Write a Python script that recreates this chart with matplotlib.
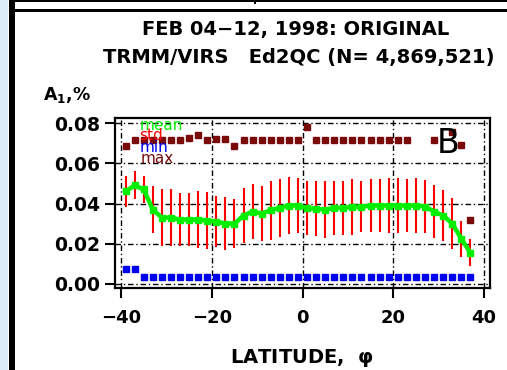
import numpy as np
import matplotlib
matplotlib.use("Agg")
import matplotlib.pyplot as plt
from matplotlib.patches import Rectangle

# ---- data ----
lats = [-39, -37, -35, -33, -31, -29, -27, -25, -23, -21, -19, -17, -15, -13, -11, -9, -7, -5, -3, -1,
        1, 3, 5, 7, 9, 11, 13, 15, 17, 19, 21, 23, 25, 27, 29, 31, 33, 35, 37]
mean_vals = [0.046, 0.049, 0.047, 0.037, 0.033, 0.033, 0.032, 0.032, 0.032, 0.0315, 0.031, 0.030, 0.030,
             0.034, 0.036, 0.035, 0.0367, 0.0378, 0.039, 0.039, 0.0378, 0.0373, 0.037, 0.0378, 0.0378,
             0.0383, 0.0383, 0.039, 0.039, 0.039, 0.039, 0.039, 0.039, 0.0385, 0.036, 0.034, 0.030,
             0.0225, 0.0155]
std_vals = [0.0075, 0.007, 0.0068, 0.0117, 0.0143, 0.0143, 0.0133, 0.0133, 0.014, 0.014, 0.0125, 0.013,
            0.012, 0.0137, 0.0135, 0.0137, 0.0147, 0.0143, 0.014, 0.0135, 0.0133, 0.0137, 0.014, 0.0133,
            0.0135, 0.014, 0.0127, 0.013, 0.0133, 0.0138, 0.0136, 0.013, 0.0136, 0.013, 0.0133, 0.0126,
            0.0127, 0.009, 0.0067]
min_vals = [0.0075, 0.0075] + [0.0037] * 37
max_vals = [0.0687, 0.0717, 0.0717, 0.0717, 0.0717, 0.0717, 0.0717, 0.0725, 0.074, 0.0717, 0.072, 0.072,
            0.0687, 0.0716, 0.0716, 0.0716, 0.0716, 0.0716, 0.0716, 0.0716, 0.0778, 0.0716, 0.0716,
            0.0716, 0.0716, 0.0716, 0.0716, 0.0716, 0.0716, 0.0716, 0.0716, 0.0716, np.nan, np.nan,
            0.0716, np.nan, 0.0757, 0.069, 0.032]
xticks = [-40, -20, 0, 20, 40]
yticks = [0.00, 0.02, 0.04, 0.06, 0.08]
title1 = "FEB 04\u221212, 1998: ORIGINAL"
title2 = "TRMM/VIRS   Ed2QC (N= 4,869,521)"

plt.rcParams['mathtext.default'] = 'bf'
W, H = 507, 370
fig = plt.figure(figsize=(W / 100, H / 100), dpi=100)

def fx(x):
    return x / W

def fy(y):
    return 1 - y / H

# page decorations
fig.add_artist(Rectangle((0, 0), fx(8), 1, transform=fig.transFigure, color='#dbebf8', lw=0))
fig.add_artist(Rectangle((fx(9), 0), fx(6), 1, transform=fig.transFigure, color='black', lw=0))
fig.add_artist(Rectangle((fx(9), fy(2)), 1, 2 / H, transform=fig.transFigure, color='black', lw=0))
fig.add_artist(Rectangle((fx(15), fy(12)), 1, 3 / H, transform=fig.transFigure, color='black', lw=0))
fig.add_artist(Rectangle((fx(254), fy(4)), 2 / W, 4 / H, transform=fig.transFigure, color='black', lw=0))

ax = fig.add_axes([fx(115), fy(288), (490 - 115) / W, (288 - 118) / H])
ax.set_xlim(-41.32, 41.32)
ax.set_ylim(-0.002, 0.0825)

ax.grid(True, color='black', lw=1.0, linestyle=(0, (4, 2, 1, 2)))
ax.set_axisbelow(True)

ax.errorbar(lats, mean_vals, yerr=std_vals, fmt='s', color='red', ms=3, elinewidth=1.5,
            capsize=0, zorder=3)
ax.plot(lats, mean_vals, color='#00ee00', lw=3.2, marker='s', ms=5, zorder=4)
ax.plot(lats, min_vals, 's', color='#0000ee', ms=4, zorder=4)
ax.plot(lats, max_vals, 's', color='#7a0a0a', ms=4, zorder=4)

ax.text(-35.9, 0.0765, 'mean', color='#00ee00', fontsize=11, zorder=5)
ax.text(-35.9, 0.0716, 'std', color='red', fontsize=11, zorder=5)
ax.text(-35.9, 0.0656, 'min', color='#0000ee', fontsize=11, zorder=5)
ax.text(-35.7, 0.0601, 'max', color='#7a0a0a', fontsize=11, zorder=5)
ax.text(32.0, 0.0696, 'B', fontsize=24, ha='center', va='center', zorder=6)

ax.set_xticks(xticks)
ax.set_xticklabels(['\u221240', '\u221220', '0', '20', '40'], fontsize=13, fontweight='bold')
ax.set_yticks(yticks)
ax.set_yticklabels(['%.2f' % v for v in yticks], fontsize=13.5, fontweight='bold')
ax.tick_params(axis='both', direction='out', length=7, width=1.5, colors='black')
ax.tick_params(axis='x', pad=8)
for s in ax.spines.values():
    s.set_linewidth(1.6)

fig.text(fx(296), fy(30), title1, ha='center', va='center', fontsize=14, fontweight='bold')
fig.text(fx(299), fy(57), title2, ha='center', va='center', fontsize=14, fontweight='bold')
fig.text(fx(43), fy(95), r'A$_1$,%', ha='left', va='center', fontsize=12.5, fontweight='bold')
fig.text(fx(302), fy(358), r'LATITUDE,  $\varphi$', ha='center', va='center', fontsize=14,
         fontweight='bold')

fig.savefig('out.png', dpi=100)
